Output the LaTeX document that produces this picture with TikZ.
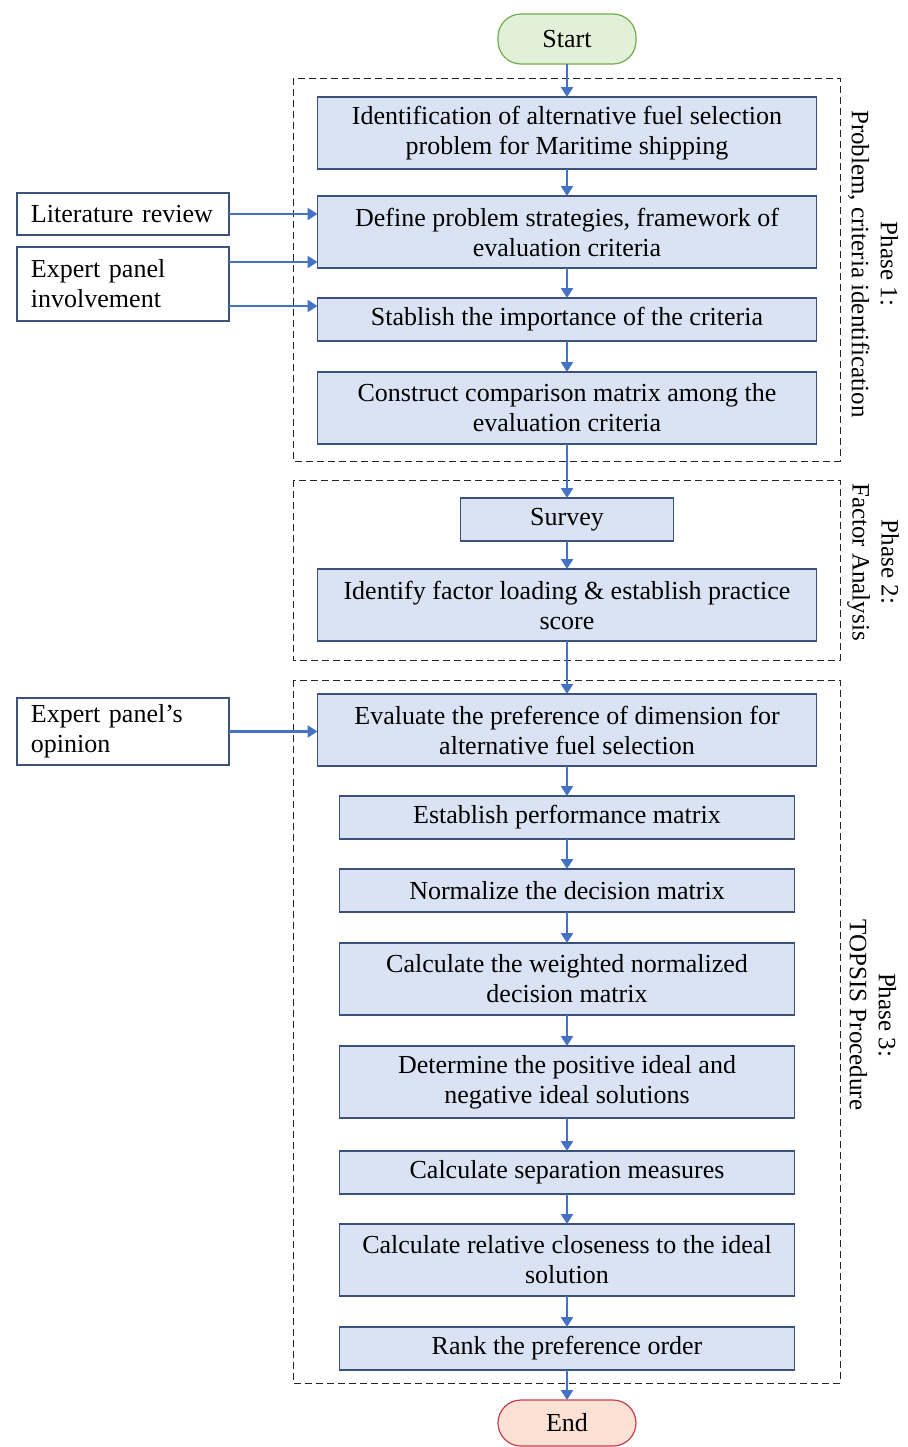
\documentclass[tikz,border=0pt]{standalone}
\usepackage{fontspec}
\setmainfont{Liberation Serif}
\usetikzlibrary{arrows.meta,positioning}
\definecolor{boxfill}{RGB}{218,227,243}
\definecolor{boxline}{RGB}{60,82,125}
\definecolor{flowblue}{RGB}{68,114,196}
\definecolor{startfill}{RGB}{226,240,217}
\definecolor{startline}{RGB}{112,173,71}
\definecolor{endfill}{RGB}{251,224,212}
\definecolor{endline}{RGB}{200,60,75}
\newcommand{\boxfont}{\fontsize{13}{15}\selectfont}

\begin{document}
\begin{tikzpicture}[x=0.5pt,y=-0.5pt,>={Triangle[width=6pt,length=5pt]},
  stage/.style={draw=boxline,fill=boxfill,line width=0.6pt,align=center,minimum width=249.5pt,minimum height=36pt,inner sep=2pt,outer sep=0pt,font=\boxfont},
  inner/.style={stage,minimum width=227.5pt},
  one/.style={minimum height=21.5pt},
  term/.style={line width=0.6pt,rounded corners=11.5pt,minimum width=69pt,minimum height=25pt,inner sep=2pt,outer sep=0pt,font=\boxfont},
  side/.style={draw=boxline,fill=white,line width=0.6pt,align=left,text width=92pt,inner xsep=7pt,inner ysep=2pt,outer sep=0pt,font=\boxfont},
  phase/.style={draw=black!85,line width=0.5pt,dash pattern=on 3.5pt off 2pt},
  plab/.style={rotate=-90,align=center,font=\fontsize{12.5}{14.5}\selectfont},
  flow/.style={->,draw=flowblue,line width=1.4pt}]
\useasboundingbox (0,0) rectangle (908,1447);

% phase frames
\draw[phase] (293,78) rectangle (840,461);
\draw[phase] (293,480) rectangle (840,660);
\draw[phase] (293,680) rectangle (840,1383);

% main column
\node[term,fill=startfill,draw=startline] (start) at (567,39) {Start};
\node[stage,below=16.5pt of start] (ident) {Identification of alternative fuel selection\\problem for Maritime shipping};
\node[stage,below=13.5pt of ident] (define) {Define problem strategies, framework of\\evaluation criteria};
\node[stage,one,below=15pt of define] (stablish) {Stablish the importance of the criteria};
\node[stage,below=15.5pt of stablish] (construct) {Construct comparison matrix among the\\evaluation criteria};
\node[stage,one,minimum width=106.5pt,below=27pt of construct] (survey) {Survey};
\node[stage,below=14pt of survey] (factor) {Identify factor loading \& establish practice\\score};
\node[stage,below=26.5pt of factor] (evaluate) {Evaluate the preference of dimension for\\alternative fuel selection};
\node[inner,one,below=15pt of evaluate] (perform) {Establish performance matrix};
\node[inner,one,below=15pt of perform] (normal) {Normalize the decision matrix};
\node[inner,below=15.5pt of normal] (weight) {Calculate the weighted normalized\\decision matrix};
\node[inner,below=15.5pt of weight] (ideal) {Determine the positive ideal and\\negative ideal solutions};
\node[inner,one,below=16.5pt of ideal] (separ) {Calculate separation measures};
\node[inner,below=15pt of separ] (close) {Calculate relative closeness to the ideal\\solution};
\node[inner,one,below=15.5pt of close] (rank) {Rank the preference order};
\node[term,fill=endfill,draw=endline,minimum height=23pt,below=15pt of rank] (finish) {End};

% inputs on the left
\node[side,minimum height=21pt] (lit) at (123,214) {Literature review};
\node[side,minimum height=37pt] (panel) at (123,284) {Expert panel\\involvement};
\node[side,minimum height=33.5pt] (opinion) at (123,731.5) {Expert panel's\\opinion};

% phase labels
\node[plab] (p1) at (873,264) {Phase 1:\\Problem, criteria identification};
\node[plab] (p2) at (873,562) {Phase 2:\\Factor Analysis};
\node[plab] (p3) at (873,1015) {Phase 3:\\TOPSIS Procedure};

\draw[flow] (start) -- (ident);
\draw[flow] (ident) -- (define);
\draw[flow] (define) -- (stablish);
\draw[flow] (stablish) -- (construct);
\draw[flow] (construct) -- (survey);
\draw[flow] (survey) -- (factor);
\draw[flow] (factor) -- (evaluate);
\draw[flow] (evaluate) -- (perform);
\draw[flow] (perform) -- (normal);
\draw[flow] (normal) -- (weight);
\draw[flow] (weight) -- (ideal);
\draw[flow] (ideal) -- (separ);
\draw[flow] (separ) -- (close);
\draw[flow] (close) -- (rank);
\draw[flow] (rank) -- (finish);
\draw[flow] (lit.east) -- (lit.east -| define.west);
\draw[flow] ([yshift=11pt]panel.east) -- ([yshift=11pt]panel.east -| define.west);
\draw[flow] ([yshift=-11pt]panel.east) -- ([yshift=-11pt]panel.east -| stablish.west);
\draw[flow] (opinion.east) -- (opinion.east -| evaluate.west);
\end{tikzpicture}
\end{document}
